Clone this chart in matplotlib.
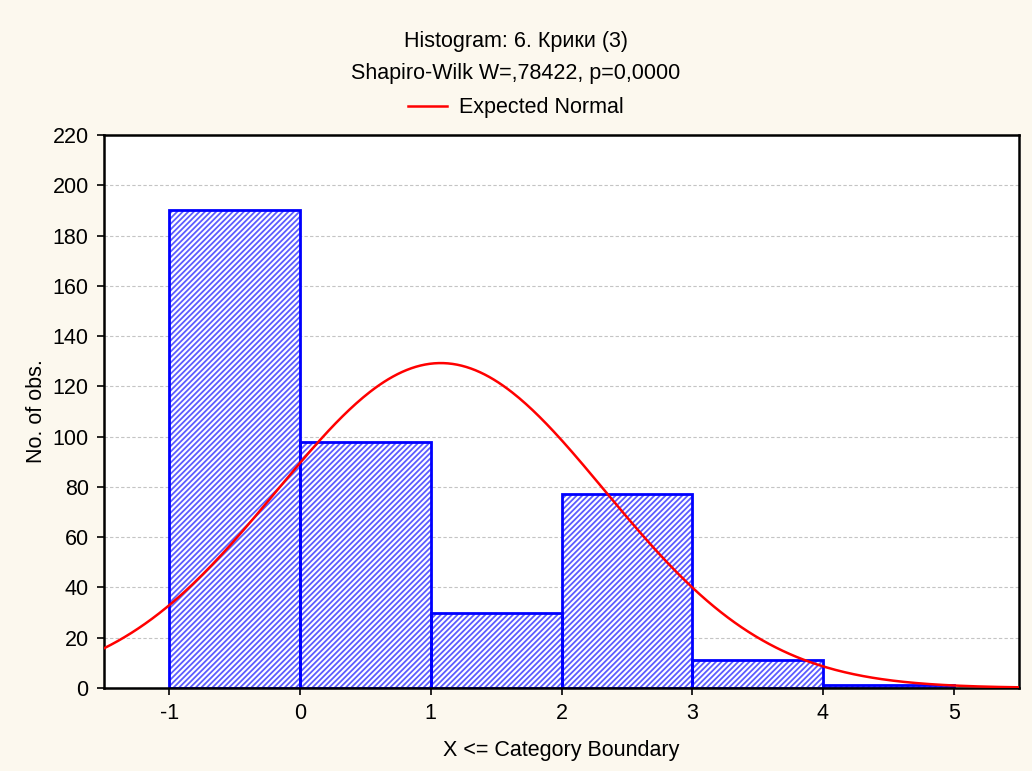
import numpy as np
import matplotlib.pyplot as plt

# category boundaries and counts (X <= boundary)
values = [0, 1, 2, 3, 4, 5]
counts = [190, 98, 30, 77, 11, 1]
title = "Histogram: 6. Крики (3)"
subtitle = "Shapiro-Wilk W=,78422, p=0,0000"

plt.rcParams['font.family'] = ['Liberation Sans', 'DejaVu Sans']
plt.rcParams['font.size'] = 15.5
plt.rcParams['axes.unicode_minus'] = False
plt.rcParams['hatch.linewidth'] = 1.3

bg = '#fcf8ee'
fig = plt.figure(figsize=(10.32, 7.71), dpi=100, facecolor=bg)
ax = fig.add_axes([0.1008, 0.1077, 0.8866, 0.7172])

v = np.array(values, dtype=float)
c = np.array(counts, dtype=float)
n = c.sum()
mean = (v * c).sum() / n
sd = np.sqrt(((v - mean) ** 2 * c).sum() / (n - 1))

# hatch fill in a lighter blue, outline in pure blue
ax.bar(v - 1, c, width=1.0, align='edge', facecolor='white',
       edgecolor='#5c5cff', hatch='//////', linewidth=0, zorder=2)
ax.bar(v - 1, c, width=1.0, align='edge', facecolor='none',
       edgecolor='#0000ff', linewidth=2, zorder=2.5)

xs = np.linspace(-1.5, 5.5, 400)
ys = n / (sd * np.sqrt(2 * np.pi)) * np.exp(-0.5 * ((xs - mean) / sd) ** 2)
line, = ax.plot(xs, ys, color='#ff0000', lw=1.8, zorder=3, label='Expected Normal')

ax.set_xlim(-1.5, 5.5)
ax.set_ylim(0, 220)
ax.set_xticks(range(-1, 6))
ax.set_yticks(range(0, 221, 20))
ax.yaxis.grid(True, color='#c4c4c4', ls=(0, (3, 2)), lw=0.8, zorder=0)
ax.tick_params(direction='out', length=5, width=1.2, labelsize=15.5, color='black', pad=6)
for s in ax.spines.values():
    s.set_linewidth(1.8)

ax.set_xlabel('X <= Category Boundary', labelpad=11)
ax.set_ylabel('No. of obs.', labelpad=4)

fig.text(0.5, 1 - 42 / 771, title, ha='center', va='center')
fig.text(0.5, 1 - 74 / 771, subtitle, ha='center', va='center')
fig.legend(handles=[line], loc='center', bbox_to_anchor=(0.5, 1 - 108 / 771),
           frameon=False, handlelength=1.8, handletextpad=0.55)

fig.savefig('out.png', dpi=100, facecolor=bg)
